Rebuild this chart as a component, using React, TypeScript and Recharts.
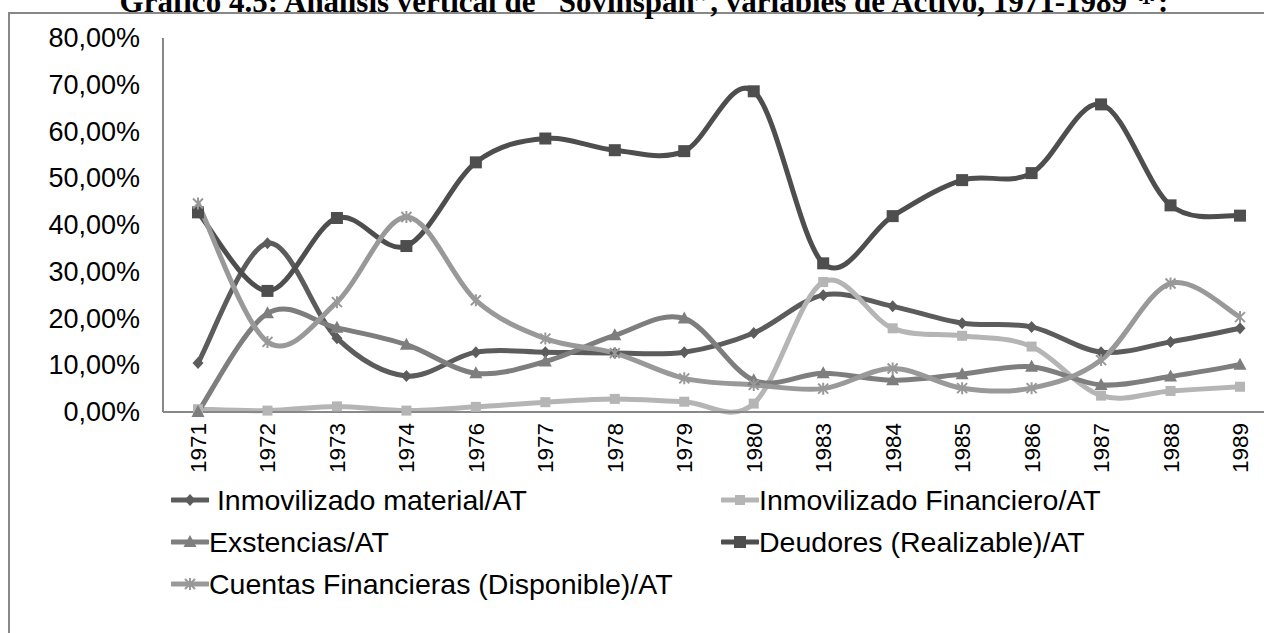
import React from "react";
import { LineChart, Line, XAxis, YAxis } from "recharts";

const years = [
  "1971", "1972", "1973", "1974", "1976", "1977", "1978", "1979",
  "1980", "1983", "1984", "1985", "1986", "1987", "1988", "1989",
];

const inmovMaterial = [10.5, 36.1, 15.8, 7.7, 12.8, 12.8, 12.6, 12.8, 16.9, 25.0, 22.6, 19.0, 18.2, 12.8, 15.0, 17.9];
const inmovFinanciero = [0.6, 0.3, 1.2, 0.3, 1.1, 2.1, 2.8, 2.2, 1.8, 27.8, 17.9, 16.3, 14.0, 3.5, 4.5, 5.4];
const existencias = [0.0, 21.1, 18.0, 14.4, 8.3, 10.8, 16.4, 20.0, 6.8, 8.3, 6.8, 8.1, 9.7, 5.8, 7.6, 10.1];
const deudores = [42.7, 25.9, 41.5, 35.5, 53.4, 58.5, 56.0, 55.8, 68.6, 31.8, 41.9, 49.6, 51.1, 65.8, 44.2, 42.0];
const cuentas = [44.6, 15.0, 23.5, 41.7, 23.9, 15.7, 12.6, 7.2, 5.8, 5.0, 9.3, 5.1, 5.1, 11.1, 27.5, 20.3];

const yTicks = [0, 10, 20, 30, 40, 50, 60, 70, 80];

const TITLE = "Gráfico 4.5: Análisis vertical de \u201CSovinspan\u201D, variables de Activo, 1971-1989 \u207D\u00B9\u207E:";
const FONT = "'Liberation Sans', Arial, sans-serif";
const AXIS = "#888888";

type Shape = "diamond" | "square" | "smallSquare" | "triangle" | "star";

const series: { key: string; name: string; color: string; shape: Shape; values: number[] }[] = [
  { key: "mat", name: " Inmovilizado material/AT", color: "#5c5c5c", shape: "diamond", values: inmovMaterial },
  { key: "fin", name: "Inmovilizado Financiero/AT", color: "#b5b5b5", shape: "smallSquare", values: inmovFinanciero },
  { key: "exi", name: "Exstencias/AT", color: "#7e7e7e", shape: "triangle", values: existencias },
  { key: "deu", name: "Deudores (Realizable)/AT", color: "#4e4e4e", shape: "square", values: deudores },
  { key: "cue", name: "Cuentas Financieras (Disponible)/AT", color: "#999999", shape: "star", values: cuentas },
];

const data = years.map((year, i) => {
  const row: Record<string, number | string> = { year };
  for (const s of series) row[s.key] = s.values[i];
  return row;
});

// Excel-like smoothing: Catmull-Rom segments drawn as cubic beziers
function excelCurve(context: any) {
  let pts: [number, number][] = [];
  return {
    areaStart() {},
    areaEnd() {},
    lineStart() {
      pts = [];
    },
    point(x: number, y: number) {
      pts.push([+x, +y]);
    },
    lineEnd() {
      if (!pts.length) return;
      context.moveTo(pts[0][0], pts[0][1]);
      for (let i = 0; i < pts.length - 1; i++) {
        const p0 = pts[i - 1] || pts[i];
        const p1 = pts[i];
        const p2 = pts[i + 1];
        const p3 = pts[i + 2] || pts[i + 1];
        context.bezierCurveTo(
          p1[0] + (p2[0] - p0[0]) / 6,
          p1[1] + (p2[1] - p0[1]) / 6,
          p2[0] - (p3[0] - p1[0]) / 6,
          p2[1] - (p3[1] - p1[1]) / 6,
          p2[0],
          p2[1]
        );
      }
    },
  };
}

function marker(shape: Shape, cx: number, cy: number, color: string, k?: string | number) {
  switch (shape) {
    case "diamond":
      return <path key={k} d={`M${cx},${cy - 6}L${cx + 5.5},${cy}L${cx},${cy + 6}L${cx - 5.5},${cy}Z`} fill={color} />;
    case "square":
      return <rect key={k} x={cx - 6} y={cy - 6} width={12} height={12} fill={color} />;
    case "smallSquare":
      return <rect key={k} x={cx - 5} y={cy - 5} width={10} height={10} fill={color} />;
    case "triangle":
      return <path key={k} d={`M${cx},${cy - 7}L${cx + 6.5},${cy + 5}L${cx - 6.5},${cy + 5}Z`} fill={color} />;
    case "star":
      return (
        <path
          key={k}
          d={`M${cx - 5},${cy - 5}L${cx + 5},${cy + 5}M${cx + 5},${cy - 5}L${cx - 5},${cy + 5}M${cx},${cy - 6}L${cx},${cy + 6}`}
          stroke={color}
          strokeWidth={2}
          fill="none"
        />
      );
  }
}

const YTick = (props: any) => {
  const { x, y, payload } = props;
  const label = `${payload.value.toFixed(2).replace(".", ",")}%`;
  return (
    <text x={x - 23} y={y} textAnchor="end" dominantBaseline="central" fontSize={27} fill="#000" fontFamily={FONT}>
      {label}
    </text>
  );
};

const XTick = (props: any) => {
  const { x, y, payload } = props;
  const tx = x + 8;
  const ty = y + 11;
  return (
    <text x={tx} y={ty} transform={`rotate(-90 ${tx} ${ty})`} textAnchor="end" fontSize={22.5} fill="#000" fontFamily={FONT}>
      {payload.value}
    </text>
  );
};

function LegendItem({ s }: { s: (typeof series)[number] }) {
  return (
    <div style={{ display: "flex", alignItems: "center", height: 42 }}>
      <svg width={38} height={16} style={{ flex: "none" }}>
        <line x1={1} y1={8} x2={37} y2={8} stroke={s.color} strokeWidth={5} strokeLinecap="round" />
        {marker(s.shape, 19, 8, s.color)}
      </svg>
      <span style={{ whiteSpace: "pre", fontSize: 28.5, fontFamily: FONT, color: "#000" }}>{s.name}</span>
    </div>
  );
}

export default function App() {
  return (
    <div style={{ position: "absolute", left: 0, top: 0, width: 1264, height: 633, overflow: "hidden", background: "#fff" }}>
      <div
        style={{
          position: "absolute",
          left: 8,
          top: 12,
          width: 1320,
          height: 700,
          border: `2px solid ${AXIS}`,
          boxSizing: "border-box",
        }}
      />
      <div
        style={{
          position: "absolute",
          left: 0,
          top: -14,
          width: 1288,
          textAlign: "center",
          fontFamily: "'Liberation Serif', 'Times New Roman', serif",
          fontWeight: "bold",
          fontSize: 31,
          lineHeight: "31px",
          whiteSpace: "nowrap",
        }}
      >
        {TITLE}
      </div>
      <div style={{ position: "absolute", left: 0, top: 0 }}>
        <LineChart width={1290} height={490} data={data} margin={{ top: 38, right: 15, left: 63, bottom: 0 }}>
          <XAxis
            dataKey="year"
            interval={0}
            height={78}
            padding={{ left: 35, right: 35 }}
            axisLine={{ stroke: AXIS, strokeWidth: 2 }}
            tickLine={false}
            tickSize={0}
            tickMargin={0}
            tick={<XTick />}
          />
          <YAxis
            width={100}
            domain={[0, 80]}
            ticks={yTicks}
            interval={0}
            axisLine={{ stroke: AXIS, strokeWidth: 2 }}
            tickLine={false}
            tickSize={0}
            tickMargin={0}
            tick={<YTick />}
          />
          {series.map((s) => (
            <Line
              key={s.key}
              dataKey={s.key}
              name={s.name}
              type={excelCurve as any}
              stroke={s.color}
              strokeWidth={5}
              isAnimationActive={false}
              dot={(p: any) => marker(s.shape, p.cx, p.cy, s.color, `${s.key}-${p.index}`) as any}
              activeDot={false}
            />
          ))}
        </LineChart>
      </div>
      <div style={{ position: "absolute", left: 171, top: 479, width: 1080 }}>
        <div style={{ display: "grid", gridTemplateColumns: "550px 530px" }}>
          {series.map((s) => (
            <LegendItem key={s.key} s={s} />
          ))}
        </div>
      </div>
    </div>
  );
}
